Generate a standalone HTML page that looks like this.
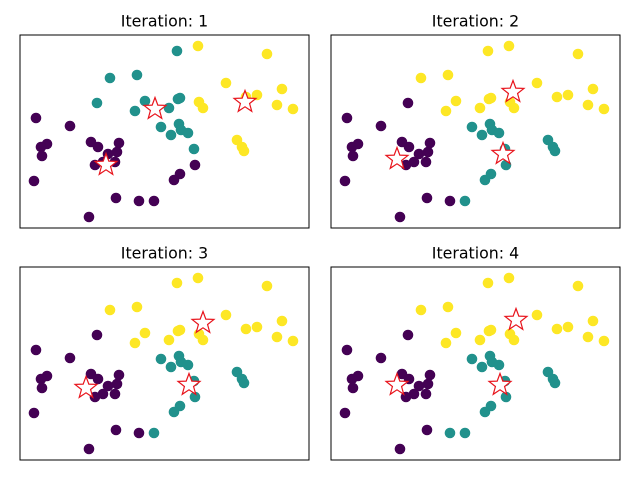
<!DOCTYPE html>
<html><head><meta charset="utf-8"><style>
html,body{margin:0;padding:0;background:#fff;}
svg{display:block;font-family:"DejaVu Sans","Liberation Sans",sans-serif;}
</style></head><body>
<svg id="chart" width="640" height="478" viewBox="0 0 640 478" xmlns="http://www.w3.org/2000/svg">
<rect width="640" height="478" fill="#fff"/>
</svg>
<script>
const xs = [157,90,117,77,125,115,158,160,149,141,159,151,161,168,174,178,247,206,237,262,179,183,257,273,226,217,222,224,16,50,27,21,22,71,78,99,97,88,95,83,75,14,175,160,154,96,119,134,69];
const ys = [177,150,153,125,127,117,129,130,120,101,104,93,98,95,79,182,174,145,133,139,126,120,123,119,131,88,81,77,110,102,84,81,72,86,81,85,76,74,66,66,63,47,63,54,48,30,27,27,11];
const labels1 = [1,1,1,1,1,1,1,1,1,1,1,1,1,1,1,2,2,2,2,2,2,2,2,2,2,2,2,2,0,0,0,0,0,0,0,0,0,0,0,0,0,0,0,0,0,0,0,0,0];
const labels2 = [2,2,2,0,2,2,2,2,2,1,1,1,1,1,1,2,2,2,2,2,2,2,2,2,2,1,1,1,0,0,0,0,0,0,0,0,0,0,0,0,0,0,1,1,1,0,0,1,0];
const labels3 = labels2.slice();
const labels4 = [2,2,2,0,2,2,2,2,2,1,1,1,1,1,1,2,2,2,2,2,2,2,2,2,2,1,1,1,0,0,0,0,0,0,0,0,0,0,0,0,0,0,1,1,1,0,1,1,0];
const centersX = [[86,135,225],[66,172,182],[66,169,183],[66,169,185]];
const centersY = [[63,119,126],[69,74,136],[72,75,137],[75,75,140]];
const titles = ["Iteration: 1","Iteration: 2","Iteration: 3","Iteration: 4"];

const colors = ["#440154","#21918c","#fde725"];
const allLabels = [labels1,labels2,labels3,labels4];
const panels = [{l:20,t:35},{l:331,t:35},{l:20,t:267},{l:331,t:267}];
const W = 289, H = 193;
const NS = "http://www.w3.org/2000/svg";
const svg = document.getElementById('chart');
function mk(tag, attrs){const e=document.createElementNS(NS,tag);for(const k in attrs)e.setAttribute(k,attrs[k]);return e;}
function starPath(cx,cy,R,r){let d="";for(let i=0;i<10;i++){const a=-Math.PI/2+i*Math.PI/5;const rad=i%2?r:R;d+=(i?"L":"M")+(cx+rad*Math.cos(a)).toFixed(2)+","+(cy+rad*Math.sin(a)).toFixed(2);}return d+"Z";}

panels.forEach((p,k)=>{
  const g = mk('g',{});
  
  
  svg.appendChild(g);
  const sx = v => p.l + v*(W/289);
  const sy = v => p.t + H - v*(H/193);
  const title = mk('text',{x:p.l+W/2,y:p.t-8.5,'text-anchor':'middle','font-size':'15.8',fill:'#000'});
  title.textContent = titles[k];
  
  
  g.appendChild(title);
  const labs = allLabels[k];
  for(let i=0;i<xs.length;i++){
    const c = mk('circle',{cx:sx(xs[i]),cy:sy(ys[i]),r:5.3,fill:colors[labs[i]]});
    
    
    g.appendChild(c);
  }
  for(let j=0;j<3;j++){
    const s = mk('path',{d:starPath(sx(centersX[k][j]),sy(centersY[k][j]),11.5,4.8),fill:'#fff',stroke:'#e8141c','stroke-width':1.2,'stroke-linejoin':'miter'});
    
    
    g.appendChild(s);
  }
  const frame = mk('rect',{x:p.l,y:p.t,width:W,height:H,fill:'none',stroke:'#000','stroke-width':1});
  
  
  g.appendChild(frame);
});
</script>
</body></html>
